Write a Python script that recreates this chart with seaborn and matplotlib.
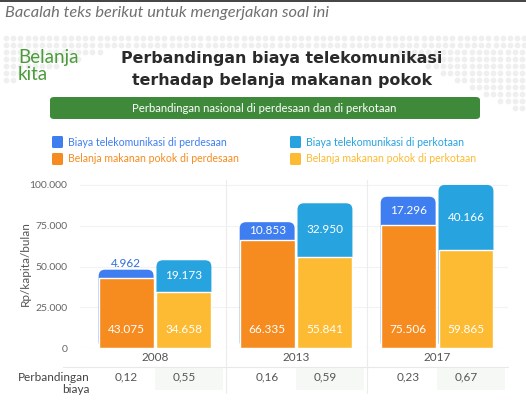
import numpy as np
import pandas as pd
import matplotlib
matplotlib.use('Agg')
import matplotlib.pyplot as plt
from matplotlib.patches import FancyBboxPatch
import seaborn as sns

# Data (Rp/kapita/bulan)
years = ['2008', '2013', '2017']
telko_desa = [4962, 10853, 17296]
telko_kota = [19173, 32950, 40166]
makan_desa = [43075, 66335, 75506]
makan_kota = [34658, 55841, 59865]
rasio_desa = ['0,12', '0,16', '0,23']
rasio_kota = ['0,55', '0,59', '0,67']
areas = ['Perdesaan', 'Perkotaan']

c_telko = {'Perdesaan': '#3f7ef0', 'Perkotaan': '#27a3df'}
c_makan = {'Perdesaan': '#f68c1f', 'Perkotaan': '#fdbb33'}

df = pd.DataFrame({
    'year': years * 2,
    'area': ['Perdesaan'] * 3 + ['Perkotaan'] * 3,
    'telko': telko_desa + telko_kota,
    'makan': makan_desa + makan_kota,
})
df['total'] = df['telko'] + df['makan']


def fmt(v):
    return f'{v:,}'.replace(',', '.')


sns.set_theme(style='white')
plt.rcParams['font.family'] = ['Lato', 'DejaVu Sans']

fig = plt.figure(figsize=(5.26, 4.0), dpi=100)
fig.patch.set_facecolor('white')

# top border + header line
fig.add_artist(plt.Line2D([0, 1], [0.998, 0.998], color='#222222', lw=1.2))
fig.text(0.01, 0.968, 'Bacalah teks berikut untuk mengerjakan soal ini', fontsize=11.8,
         style='italic', color='#707070', va='center', ha='left')

# faint dot decoration (background pattern)
for row, yy in enumerate(np.arange(38, 140, 7)):
    if row < 2:
        xs = np.arange(6, 526, 7.2)
    else:
        n_left = max(0, 20 - row * 3)
        n_right = max(0, 22 - row * 2)
        xs = np.concatenate([np.arange(n_left) * 7.2 + 6, 522 - np.arange(n_right) * 7.2])
    fig.add_artist(plt.Line2D(xs / 526, np.full(len(xs), 1 - yy / 400), ls='none', marker='o',
                              ms=4.2, color='#eef0ee', mec='none', zorder=0))

# logo
fig.text(0.034, 1 - 57 / 400, 'Belanja', fontsize=13.5, color='#4b9b3c', va='center', ha='left')
fig.text(0.034, 1 - 75 / 400, 'kita', fontsize=13.5, color='#4b9b3c', va='center', ha='left')

# title
fig.text(0.536, 1 - 58 / 400, 'Perbandingan biaya telekomunikasi', fontsize=11.4, fontweight='bold',
         color='#2a2a2a', ha='center', va='center', family='DejaVu Sans')
fig.text(0.536, 1 - 80 / 400, 'terhadap belanja makanan pokok', fontsize=11.4, fontweight='bold',
         color='#2a2a2a', ha='center', va='center', family='DejaVu Sans')

# green banner
banner = FancyBboxPatch((50 / 526, 1 - 119 / 400), 430 / 526, 22 / 400,
                        boxstyle='round,pad=0,rounding_size=0.008', transform=fig.transFigure,
                        facecolor='#3e8a3a', edgecolor='none')
fig.add_artist(banner)
fig.text(0.502, 1 - 108 / 400, 'Perbandingan nasional di perdesaan dan di perkotaan', fontsize=8.2,
         color='white', ha='center', va='center')

# legend
leg = [
    (52, 142, c_telko['Perdesaan'], 'Biaya telekomunikasi di perdesaan'),
    (52, 159, c_makan['Perdesaan'], 'Belanja makanan pokok di perdesaan'),
    (290, 142, c_telko['Perkotaan'], 'Biaya telekomunikasi di perkotaan'),
    (290, 159, c_makan['Perkotaan'], 'Belanja makanan pokok di perkotaan'),
]
for lx, ly, col, txt in leg:
    fig.add_artist(FancyBboxPatch((lx / 526, 1 - (ly + 6) / 400), 11 / 526, 12 / 400,
                                  boxstyle='round,pad=0,rounding_size=0.003',
                                  transform=fig.transFigure, facecolor=col, edgecolor='none'))
    fig.text((lx + 16) / 526, 1 - ly / 400, txt, fontsize=7.6, color=col, ha='left', va='center')

# main axes
ymax = 103000
ax = fig.add_axes([80 / 526, 52 / 400, 428 / 526, 163 * ymax / 100000 / 400])
sns.barplot(data=df, x='year', y='total', hue='area', hue_order=areas, order=years,
            palette=c_telko, width=0.82, gap=0.05, ax=ax, legend=False, saturation=1)
n_top = len(ax.patches)
sns.barplot(data=df, x='year', y='makan', hue='area', hue_order=areas, order=years,
            palette=c_makan, width=0.82, gap=0.05, ax=ax, legend=False, saturation=1)

# round the top corners of the total bars
aspect = (ymax / (163 * ymax / 100000)) / (3.035 / 428)
for p in ax.patches[:n_top]:
    x0, w, h = p.get_x(), p.get_width(), p.get_height()
    fb = FancyBboxPatch((x0, 0), w, h, boxstyle='round,pad=0,rounding_size=0.045',
                        mutation_aspect=aspect, facecolor=p.get_facecolor(), edgecolor='none', zorder=2)
    p.set_visible(False)
    ax.add_patch(fb)
for p in ax.patches[n_top:2 * n_top]:
    p.set_zorder(3)

ax.set_xlim(-0.532, 2.503)
ax.set_ylim(0, ymax)
ax.set_yticks([0, 25000, 50000, 75000, 100000])
ax.set_yticklabels(['0', '25.000', '50.000', '75.000', '100.000'], fontsize=7.5, color='#666666')
ax.tick_params(axis='y', length=0, pad=9)
ax.set_xticks([])
ax.set_xlabel('')
ax.set_ylabel('Rp/kapita/bulan', fontsize=8.5, color='#555555', labelpad=-1)
for s in ax.spines.values():
    s.set_visible(False)
for t in [25000, 50000, 75000, 100000]:
    ax.axhline(t, color='#f2f2f2', lw=0.8, zorder=0)
trans = ax.get_xaxis_transform()
for xs in [0.5, 1.5]:
    ax.plot([xs, xs], [-0.27, 1.0], transform=trans, color='#ececec', lw=0.8, zorder=0, clip_on=False)
ax.axhline(0, color='#e6e6e6', lw=0.8, zorder=4)

# value labels
offs = {'Perdesaan': -0.205, 'Perkotaan': 0.205}
for _, r in df.iterrows():
    xi = years.index(r['year']) + offs[r['area']]
    ax.text(xi, 11500, fmt(r['makan']), ha='center', va='center', fontsize=8.5, color='white', zorder=5)
    if r['telko'] < 8000:
        ax.text(xi, r['total'] + 4000, fmt(r['telko']), ha='center', va='center', fontsize=8.5,
                color='#2c6fd6', zorder=5)
    else:
        ax.text(xi, r['makan'] + r['telko'] / 2 + 300, fmt(r['telko']), ha='center', va='center',
                fontsize=8.5, color='white', zorder=5)

# year labels and ratio row, below the axes
for i, yr in enumerate(years):
    ax.add_patch(plt.Rectangle((i + 0.0, -0.25), 0.48, 0.13, transform=trans, facecolor='#f6f8f6',
                               edgecolor='none', clip_on=False, zorder=0))
    ax.text(i, -0.055, yr, transform=trans, ha='center', va='center', fontsize=8.5, color='#555555')
    ax.text(i - 0.205, -0.175, rasio_desa[i], transform=trans, ha='center', va='center', fontsize=8.5,
            color='#555555')
    ax.text(i + 0.205, -0.175, rasio_kota[i], transform=trans, ha='center', va='center', fontsize=8.5,
            color='#555555')
ax.plot([-0.65, 2.503], [-0.112, -0.112], transform=trans, color='#e8e8e8', lw=0.8, clip_on=False)
ax.text(-0.532 + 10 * 3.035 / 428, -0.175, 'Perbandingan', transform=trans, ha='right', va='center',
        fontsize=8.5, color='#444444')
ax.text(-0.532 + 10 * 3.035 / 428, -0.245, 'biaya', transform=trans, ha='right', va='center',
        fontsize=8.5, color='#444444')

fig.savefig('out.png', dpi=100, facecolor='white')
